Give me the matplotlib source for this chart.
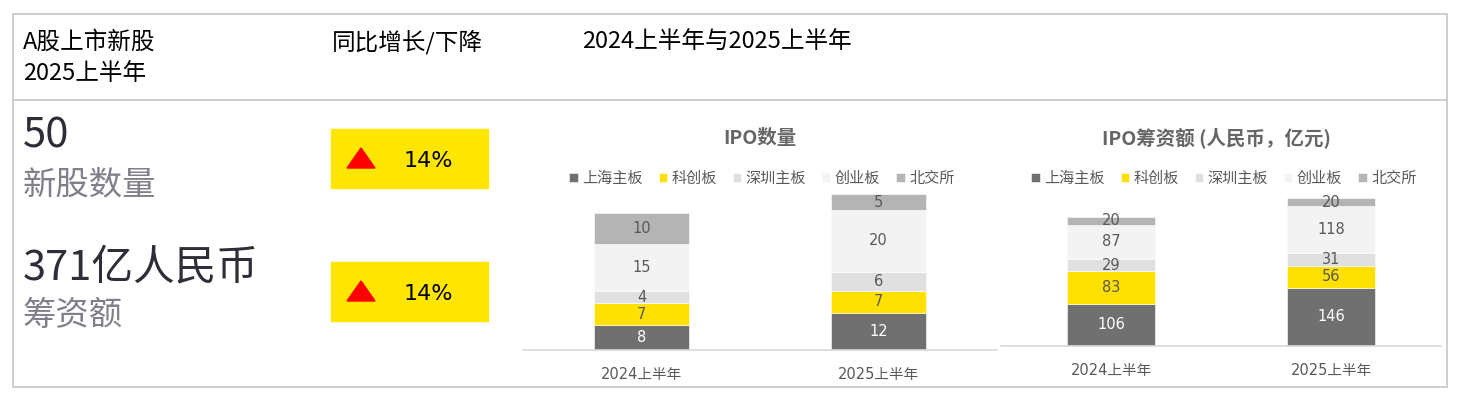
import matplotlib
matplotlib.use('Agg')
import matplotlib.pyplot as plt
import matplotlib.patches as mpatches
import numpy as np

plt.rcParams['font.family'] = ['Noto Sans CJK SC', 'DejaVu Sans']

# data
periods = ['2024上半年', '2025上半年']
boards = ['上海主板', '科创板', '深圳主板', '创业板', '北交所']
board_colors = ['#707070', '#FFE000', '#E0E0E0', '#F3F3F3', '#B4B4B4']

count_sh_main = [8, 12]
count_star = [7, 7]
count_sz_main = [4, 6]
count_chinext = [15, 20]
count_bse = [10, 5]

funds_sh_main = [106, 146]
funds_star = [83, 56]
funds_sz_main = [29, 31]
funds_chinext = [87, 118]
funds_bse = [20, 20]

new_listings = 50
funds_raised = 371
yoy_labels = ['14%', '14%']

W, H = 1459, 395


def fx(x):
    return x / W


def fy(y):
    return 1 - y / H


fig = plt.figure(figsize=(W / 100, H / 100), dpi=100)

# frame
border = '#c9c9d1'
fig.patches.append(mpatches.Rectangle((fx(13), fy(387)), fx(1447) - fx(13), fy(14) - fy(387),
                                      transform=fig.transFigure, fill=False, edgecolor=border, linewidth=1.3))
fig.lines.append(plt.Line2D([fx(13), fx(1447)], [fy(100), fy(100)], transform=fig.transFigure,
                            color=border, linewidth=1.3))

# header row
fig.text(fx(23), fy(42), 'A股上市新股', fontsize=17, va='center', color='black')
fig.text(fx(23), fy(74), '2025上半年', fontsize=17, va='center', color='black')
fig.text(fx(332), fy(42), '同比增长/下降', fontsize=17, va='center', color='black')
fig.text(fx(582), fy(42), '2024上半年与2025上半年', fontsize=17, va='center', color='black')

# headline numbers
fig.text(fx(23), fy(136), str(new_listings), fontsize=30, va='center', color='#2e2e38')
fig.text(fx(23), fy(185), '新股数量', fontsize=24, va='center', color='#80808c')
fig.text(fx(23), fy(268), f'{funds_raised}亿人民币', fontsize=30, va='center', color='#2e2e38')
fig.text(fx(23), fy(316), '筹资额', fontsize=24, va='center', color='#80808c')

# yoy boxes
for top, lab in zip([129, 262], yoy_labels):
    fig.patches.append(mpatches.Rectangle((fx(331), fy(top + 59)), fx(488) - fx(331), fy(top) - fy(top + 59),
                                          transform=fig.transFigure, color='#FFE600', zorder=1))
    tri = [(fx(347), fy(top + 39)), (fx(375), fy(top + 39)), (fx(361), fy(top + 19))]
    fig.patches.append(mpatches.Polygon(tri, closed=True, transform=fig.transFigure, color='#FF0000', zorder=2))
    fig.text(fx(404), fy(top + 32), lab, fontsize=16, va='center', ha='left', color='black',
             fontfamily='DejaVu Sans', zorder=3)


def draw_stack(ax, series, title, title_x, legend_x, ymax):
    x = np.arange(len(periods))
    bottom = np.zeros(len(periods))
    for name, vals, c in zip(boards, series, board_colors):
        bars = ax.bar(x, vals, 0.4, bottom=bottom, color=c, edgecolor='white', linewidth=0.4, label=name)
        tc = 'white' if c == '#707070' else '#595959'
        ax.bar_label(bars, labels=[str(v) for v in vals], label_type='center', color=tc, fontsize=10.5,
                     fontfamily='DejaVu Sans')
        bottom += np.array(vals)
    ax.set_xlim(-0.5, 1.5)
    ax.set_ylim(0, ymax)
    for s in ['top', 'left', 'right']:
        ax.spines[s].set_visible(False)
    ax.spines['bottom'].set_color('#d9d9d9')
    ax.spines['bottom'].set_linewidth(1.2)
    ax.set_yticks([])
    ax.set_xticks(x)
    ax.set_xticklabels(periods, fontsize=10.5, color='#595959', fontfamily=['DejaVu Sans', 'Noto Sans CJK SC'])
    ax.tick_params(axis='x', length=0, pad=12)
    ax.patch.set_alpha(0)
    fig.text(fx(title_x), fy(138), title, ha='center', va='center', fontsize=14, fontweight='bold',
             color='#666666')
    ax.legend(loc='center', bbox_to_anchor=(fx(legend_x), fy(178)), bbox_transform=fig.transFigure, ncol=5,
              frameon=False, handlelength=0.55, handleheight=0.55, handletextpad=0.3, columnspacing=1.05,
              fontsize=10.9, labelcolor='#595959')


count_series = [count_sh_main, count_star, count_sz_main, count_chinext, count_bse]
funds_series = [funds_sh_main, funds_star, funds_sz_main, funds_chinext, funds_bse]

ax1 = fig.add_axes([fx(523), fy(350), fx(997) - fx(523), fy(190) - fy(350)])
draw_stack(ax1, count_series, 'IPO数量', 760, 762, 160 / 3.115)

ax2 = fig.add_axes([fx(1001), fy(346), fx(1441) - fx(1001), fy(190) - fy(346)])
draw_stack(ax2, funds_series, 'IPO筹资额 (人民币，亿元)', 1216, 1224, 156 / 0.398)

fig.savefig('out.png', dpi=100, facecolor='white')
